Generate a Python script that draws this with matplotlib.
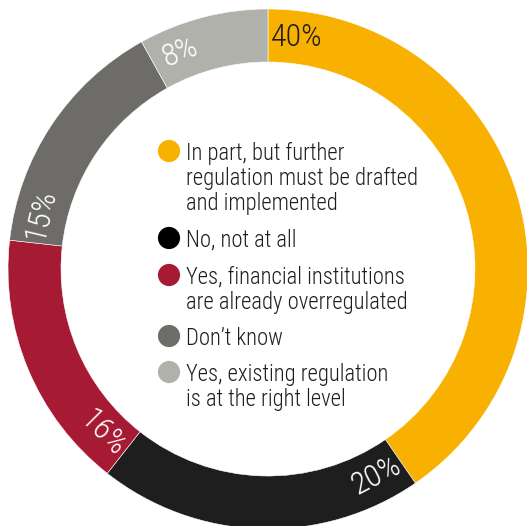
import matplotlib
matplotlib.use('Agg')
import matplotlib.pyplot as plt
from matplotlib import font_manager
import numpy as np

# survey answers, clockwise from 12 o'clock
answers = ['In part, but further\nregulation must be drafted\nand implemented',
           'No, not at all',
           'Yes, financial institutions\nare already overregulated',
           "Don\u2019t know",
           'Yes, existing regulation\nis at the right level']
shares = [40, 20, 16, 15, 8]
share_labels = ['40%', '20%', '16%', '15%', '8%']

ring_colors = ['#F8B100', '#1E1E1E', '#A71A33', '#6D6C68', '#B1B1AC']
dot_colors = ['#F8B100', '#000000', '#A71A33', '#6D6C68', '#B1B1AC']
label_colors = ['#1E1E1E', 'white', 'white', 'white', 'white']

# pick a narrow font if one is around
installed = set(f.name for f in font_manager.fontManager.ttflist)
fontname = 'Roboto'
for cand in ['Roboto Condensed', 'Liberation Sans Narrow', 'Roboto']:
    if cand in installed:
        fontname = cand
        break
plt.rcParams['font.family'] = [fontname, 'DejaVu Sans']

W, H = 527, 526
cx, cy = 268, 269          # centre of the ring in pixels from top-left
R, width = 260, 53

fig = plt.figure(figsize=(W / 100.0, H / 100.0), dpi=100)
ax = fig.add_axes([0, 0, 1, 1])

wedges, _ = ax.pie(shares, startangle=90, counterclock=False, radius=R,
                   colors=ring_colors,
                   wedgeprops=dict(width=width, edgecolor='white',
                                   linewidth=0.4))

ax.set_xlim(-cx, W - cx)
ax.set_ylim(-(H - cy), cy)
ax.set_aspect('equal')
ax.axis('off')

# percentage labels sit just after the start of each segment
total = float(sum(shares))
start = 90.0
rmid = R - width / 2.0
for i, v in enumerate(shares):
    a = start - 7.0
    rot = a - 90.0
    while rot <= -90:
        rot += 180
    while rot > 90:
        rot -= 180
    if i == 0:
        rot = 0
    x = rmid * np.cos(np.radians(a))
    y = rmid * np.sin(np.radians(a))
    ax.text(x, y, share_labels[i], color=label_colors[i], fontsize=23,
            fontweight='light', rotation=rot, rotation_mode='anchor',
            ha='center', va='center')
    start -= v / total * 360.0

# legend in the middle
dot_y = [151, 238, 275, 336, 372]
text_x = 186
dot_x = 169
for i, txt in enumerate(answers):
    ax.scatter([dot_x - cx], [cy - dot_y[i]], s=255, color=dot_colors[i],
               edgecolors='none', zorder=3)
    ax.text(text_x - cx, cy - dot_y[i] + 9, txt, color='#1E1E1E',
            fontsize=16.3, fontweight='light', ha='left', va='top',
            linespacing=1.12)

fig.savefig('out.png', dpi=100)
